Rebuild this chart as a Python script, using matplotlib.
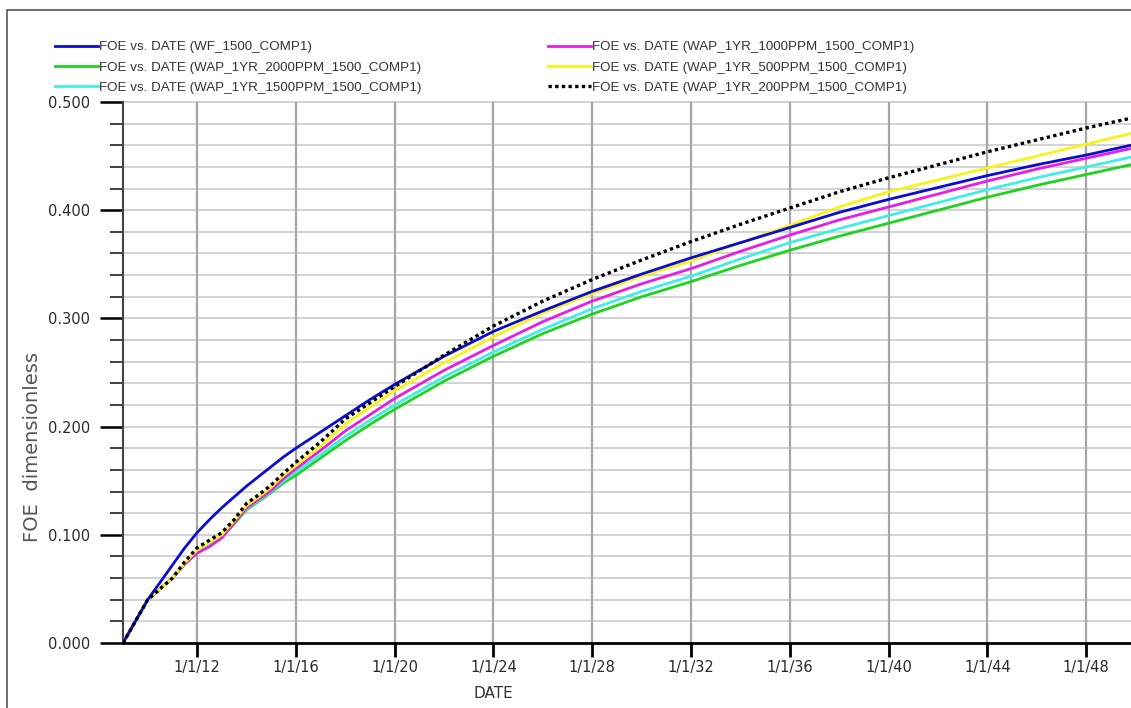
import matplotlib
matplotlib.use('Agg')
import matplotlib.pyplot as plt
from matplotlib.ticker import FixedLocator, MultipleLocator, FuncFormatter
from matplotlib.patches import Rectangle

# ---------------- data ----------------
years = [2009, 2010, 2010.5, 2011, 2011.5, 2012, 2012.5, 2013, 2013.5, 2014,
         2014.5, 2015, 2015.5, 2016, 2017, 2018, 2019, 2020, 2022, 2024,
         2026, 2028, 2030, 2032, 2034, 2036, 2038, 2040, 2042, 2044,
         2046, 2048, 2050]

foe_wf_1500 = [0.000, 0.040, 0.056, 0.072, 0.088, 0.102, 0.114, 0.125, 0.135, 0.145,
               0.154, 0.163, 0.172, 0.180, 0.195, 0.210, 0.225, 0.239, 0.265, 0.288,
               0.307, 0.325, 0.341, 0.356, 0.370, 0.384, 0.398, 0.410, 0.421, 0.432,
               0.442, 0.451, 0.461]
foe_2000ppm = [0.000, 0.040, 0.050, 0.060, 0.073, 0.084, 0.091, 0.098, 0.110, 0.123,
               0.131, 0.139, 0.148, 0.155, 0.171, 0.187, 0.202, 0.216, 0.242, 0.265,
               0.286, 0.304, 0.320, 0.334, 0.349, 0.363, 0.376, 0.388, 0.400, 0.412,
               0.423, 0.433, 0.443]
foe_1500ppm = [0.000, 0.040, 0.050, 0.060, 0.073, 0.084, 0.091, 0.098, 0.111, 0.124,
               0.132, 0.140, 0.150, 0.158, 0.174, 0.191, 0.206, 0.220, 0.246, 0.269,
               0.290, 0.309, 0.325, 0.339, 0.355, 0.370, 0.383, 0.395, 0.407, 0.419,
               0.430, 0.440, 0.450]
foe_1000ppm = [0.000, 0.040, 0.050, 0.060, 0.073, 0.083, 0.089, 0.097, 0.111, 0.125,
               0.133, 0.141, 0.152, 0.161, 0.178, 0.196, 0.211, 0.226, 0.252, 0.275,
               0.297, 0.316, 0.332, 0.346, 0.362, 0.377, 0.391, 0.403, 0.415, 0.427,
               0.438, 0.448, 0.458]
foe_500ppm = [0.000, 0.040, 0.050, 0.060, 0.074, 0.086, 0.093, 0.100, 0.113, 0.127,
              0.135, 0.144, 0.155, 0.164, 0.182, 0.202, 0.218, 0.233, 0.259, 0.283,
              0.305, 0.323, 0.339, 0.353, 0.370, 0.386, 0.403, 0.417, 0.428, 0.439,
              0.450, 0.461, 0.472]
foe_200ppm = [0.000, 0.040, 0.050, 0.060, 0.075, 0.088, 0.095, 0.102, 0.114, 0.129,
              0.137, 0.146, 0.157, 0.167, 0.186, 0.207, 0.222, 0.237, 0.266, 0.293,
              0.316, 0.336, 0.354, 0.371, 0.387, 0.402, 0.417, 0.430, 0.442, 0.454,
              0.465, 0.476, 0.486]

labels = ["FOE vs. DATE (WF_1500_COMP1)",
          "FOE vs. DATE (WAP_1YR_2000PPM_1500_COMP1)",
          "FOE vs. DATE (WAP_1YR_1500PPM_1500_COMP1)",
          "FOE vs. DATE (WAP_1YR_1000PPM_1500_COMP1)",
          "FOE vs. DATE (WAP_1YR_500PPM_1500_COMP1)",
          "FOE vs. DATE (WAP_1YR_200PPM_1500_COMP1)"]

tick_years = [2012, 2016, 2020, 2024, 2028, 2032, 2036, 2040, 2044, 2048]
y_ticks = [0.0, 0.1, 0.2, 0.3, 0.4, 0.5]

# ---------------- figure ----------------
W, H = 1131, 708
PT = 0.72  # points per pixel at dpi 100
fig = plt.figure(figsize=(W / 100, H / 100), dpi=100)
fig.patch.set_facecolor('white')

# outer frame
fig.add_artist(Rectangle((7 / W, -0.01), 1.05, 1 - 10 / H + 0.01,
                         transform=fig.transFigure, fill=False,
                         edgecolor='#555555', linewidth=1.2))

ax = fig.add_axes([123 / W, 1 - 643 / H, (W - 123) / W, (643 - 102) / H])
ax.set_xlim(2009, 2009 + (W - 123) / 24.7)
ax.set_ylim(0, 0.5)

c_blue = '#0c0cd0'
c_green = '#1ed41e'
c_cyan = '#40eee4'
c_mag = '#e41ee4'
c_yel = '#f8f418'

l_green, = ax.plot(years, foe_2000ppm, color=c_green, lw=2.0, zorder=3)
l_cyan, = ax.plot(years, foe_1500ppm, color=c_cyan, lw=2.0, zorder=3)
l_mag, = ax.plot(years, foe_1000ppm, color=c_mag, lw=2.0, zorder=3)
l_yel, = ax.plot(years, foe_500ppm, color=c_yel, lw=2.0, zorder=3)
l_blue, = ax.plot(years, foe_wf_1500, color=c_blue, lw=2.0, zorder=4)
l_blk, = ax.plot(years, foe_200ppm, color='black', lw=2.4, zorder=5,
                 linestyle=(0, (1, 1.0)), dash_capstyle='butt')

# ticks / grid
ax.xaxis.set_major_locator(FixedLocator(tick_years))
ax.xaxis.set_major_formatter(FuncFormatter(lambda v, p: "1/1/%02d" % (int(round(v)) % 100)))
ax.yaxis.set_major_locator(FixedLocator(y_ticks))
ax.yaxis.set_major_formatter(FuncFormatter(lambda v, p: "%.3f" % v))
ax.yaxis.set_minor_locator(MultipleLocator(0.02))

for yv in [i * 0.02 for i in range(1, 26)]:
    ax.axhline(yv, color='#cfcfcf', lw=1.3, zorder=1, clip_on=False)
for xv in tick_years:
    ax.axvline(xv, color='#a6a6a6', lw=1.6, zorder=1)

for s in ['top', 'right']:
    ax.spines[s].set_visible(False)
ax.spines['left'].set_color('#444444')
ax.spines['left'].set_linewidth(1.5)
ax.spines['bottom'].set_color('black')
ax.spines['bottom'].set_linewidth(2)

ax.tick_params(axis='y', which='major', length=23 * PT, width=1.8, direction='out',
               pad=10 * PT, labelsize=10.5, labelcolor='#2a2a2a', color='black')
ax.tick_params(axis='y', which='minor', length=13 * PT, width=1.3, direction='out',
               color='#333333')
ax.tick_params(axis='x', which='major', length=14 * PT, width=2, direction='out',
               pad=2, labelsize=10.5, labelcolor='#2a2a2a', color='black')

ax.set_xlabel("DATE", fontsize=11, color='#333333')
ax.xaxis.set_label_coords((493 - 123) / (W - 123), -(693 - 643) / (643 - 102))
ax.xaxis.label.set_va('center')
ax.set_ylabel("FOE  dimensionless", fontsize=14, color='#555555')
ax.yaxis.set_label_coords(-(123 - 33) / (W - 123), (643 - 447) / (643 - 102))
ax.yaxis.label.set_va('center')

# legends (two columns)
leg_kw = dict(loc='upper left', frameon=False, borderpad=0, borderaxespad=0,
              handlelength=3.2, handletextpad=0.1, labelspacing=0.6,
              prop={'family': 'Liberation Sans', 'size': 9.6})
leg1 = fig.legend([l_blue, l_green, l_cyan], labels[:3],
                  bbox_to_anchor=(55 / W, 1 - 41 / H), **leg_kw)
leg2 = fig.legend([l_mag, l_yel, l_blk], labels[3:],
                  bbox_to_anchor=(548 / W, 1 - 41 / H), **leg_kw)
for lg in (leg1, leg2):
    for t in lg.get_texts():
        t.set_color('#333333')

fig.savefig('out.png', dpi=100)
